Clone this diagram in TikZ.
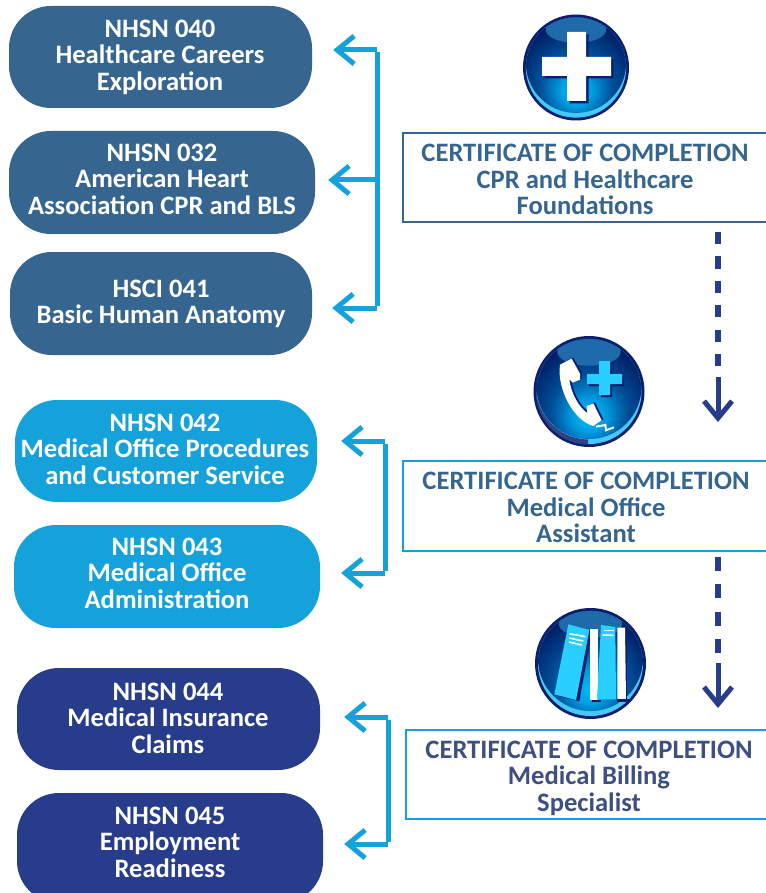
\documentclass[tikz,border=0pt]{standalone}
\usepackage{fontspec}
\setmainfont{Carlito}
\usetikzlibrary{arrows.meta}
\definecolor{clrone}{HTML}{36668F}
\definecolor{clrtwo}{HTML}{15A2DA}
\definecolor{clrthree}{HTML}{273D8B}
\definecolor{clrbill}{HTML}{3E4F82}
\definecolor{clrnavy}{HTML}{0B1F6E}
\definecolor{clrglow}{HTML}{45C9F5}
\definecolor{clrband}{HTML}{1F6AAB}
\definecolor{clrbook}{HTML}{28CFFF}
\definecolor{orba}{HTML}{00BEFA}
\definecolor{orbb}{HTML}{009BE0}
\definecolor{orbc}{HTML}{004F99}
\definecolor{orbd}{HTML}{001A61}
\pgfdeclareradialshading{orbshade}{\pgfpoint{0bp}{-15bp}}{%
  color(0bp)=(orba);
  color(8bp)=(orbb);
  color(18bp)=(orbc);
  color(32bp)=(orbd);
  color(100bp)=(orbd)}
\tikzset{
  course/.style={rounded corners=42pt,fill=#1,inner sep=0pt},
  coursetext/.style={text=white,font=\bfseries\fontsize{26.6}{26.5}\selectfont,align=center,inner sep=0pt},
  cert/.style={draw=#1,line width=2.6pt,inner sep=0pt},
  certtext/.style={text=#1,font=\bfseries\fontsize{26.6}{26.5}\selectfont,align=center,inner sep=0pt},
  bracket/.style={draw=clrtwo,line width=5pt},
  barbtip/.style={-{Straight Barb[length=17pt,width=28pt,line width=5pt]}},
  nextdash/.style={draw=clrthree,line width=5.5pt,dash pattern=on #1 off #1},
  nexttip/.style={draw=clrthree,line width=5pt,barbtip}
}
% name, x, y, radius
\newcommand{\orb}[4]{%
  \begin{scope}[shift={(#2,#3)},scale=#4/56]
    \coordinate (#1) at (0,0);
    \fill[clrnavy] (#1) circle (56);
    \fill[clrglow] (#1) circle (53);
    \begin{scope}
      \clip (#1) circle (53);
      \shade[shading=orbshade] (0,-5) circle (53);
      \fill[clrband] (0,-40) ellipse (32 and 14);
    \end{scope}
  \end{scope}
}

\begin{document}
\begin{tikzpicture}[x=1pt,y=-1pt]
  \useasboundingbox (0,0) rectangle (765,893);

%%%%        Courses
  \foreach\n/\x/\y/\w/\h/\c in {a0/160.5/57/303/102/clrone,a1/162/182.5/306/103/clrone,a2/161/303.5/302/103/clrone,b0/166/451/302/102/clrtwo,b1/167/576.5/306/103/clrtwo,c0/168.5/719/303/102/clrthree,c1/170/848/306/110/clrthree}
  {
    \node[course=\c,minimum width=\w pt,minimum height=\h pt] (\n) at (\x,\y) {};
  }
  \node[coursetext] at (160,57) {NHSN 040\\Healthcare Careers\\Exploration};
  \node[coursetext] at (162,179) {NHSN 032\\American Heart\\Association CPR and BLS};
  \node[coursetext] at (161,304) {HSCI 041\\Basic Human Anatomy};
  \node[coursetext] at (165,449) {NHSN 042\\Medical Office Procedures\\and Customer Service};
  \node[coursetext] at (167,573) {NHSN 043\\Medical Office\\Administration};
  \node[coursetext] at (168,718) {NHSN 044\\Medical Insurance\\Claims};
  \node[coursetext] at (170,842) {NHSN 045\\Employment\\Readiness};

%%%%        Certificates
  \node[cert=clrone,minimum width=372pt,minimum height=89pt] (s0) at (589,177.5) {};
  \node[cert=clrtwo,minimum width=372pt,minimum height=90pt] (s1) at (589,506) {};
  \node[cert=clrtwo,minimum width=369pt,minimum height=89pt] (s2) at (590.5,774.5) {};
  \node[certtext=clrone] at (585,179.5) {CERTIFICATE OF COMPLETION\\CPR and Healthcare\\Foundations};
  \node[certtext=clrone] at (586,507.5) {CERTIFICATE OF COMPLETION\\Medical Office\\Assistant};
  \node[certtext=clrbill] at (589,778) {CERTIFICATE OF COMPLETION\\Medical Billing\\Specialist};

%%%%        Brackets
  \coordinate (t0) at (377,50);
  \coordinate (t1) at (377,180);
  \coordinate (t2) at (377,308);
  \coordinate (t3) at (385,441);
  \coordinate (t4) at (385,573);
  \coordinate (t5) at (388,717);
  \coordinate (t6) at (388,844);
  \draw[bracket] ([yshift=-2.5]t0) -- ([yshift=2.5]t2);
  \draw[bracket] ([yshift=-2.5]t3) -- ([yshift=2.5]t4);
  \draw[bracket] ([yshift=-2.5]t5) -- ([yshift=2.5]t6);
  \foreach\v/\w/\d in {t0/a0/21,t1/a1/13,t2/a2/20,t3/b0/24,t4/b1/21,t5/c0/24,t6/c1/21}
  {
    \draw[bracket,barbtip,shorten >=\d pt] (\v) -- (\v -| \w.east);
  }

%%%%        Next steps
  \coordinate (n0) at (718,232);
  \coordinate (n1) at (718,367);
  \coordinate (n2) at (718,377);
  \coordinate (n3) at (718,422);
  \coordinate (n4) at (718,557);
  \coordinate (n5) at (718,653);
  \coordinate (n6) at (718,663);
  \coordinate (n7) at (718,708);
  \draw[nextdash=12.2pt] (n0) -- (n1);
  \draw[nextdash=13.7pt] (n4) -- (n5);
  \draw[nexttip] (n2) -- (n3);
  \draw[nexttip] (n6) -- (n7);

%%%%        Icons
  \orb{i0}{576}{67.5}{53}
  \orb{i1}{589}{391.5}{55.5}
  \orb{i2}{590.5}{663.5}{55.5}
%plus
  \foreach\d/\c in {2.5/clrnavy,0/white}
  {
    \fill[\c,shift={(\d,\d)}] (567,32) -- (586,32) -- (586,57) -- (611,57) -- (611,76) -- (586,76) -- (586,101) -- (567,101) -- (567,76) -- (542,76) -- (542,57) -- (567,57) -- cycle;
  }
%phone
  \begin{scope}
    \clip (589,391.5) circle (53) ;
    \clip (530,332) rectangle (588,460);
    \fill[even odd rule,clrnavy!85!white] (589,391.5) circle (53) (589,386.5) circle (53);
  \end{scope}
  \foreach\d/\c in {2/clrnavy,0/clrbook}
  {
    \fill[\c,shift={(\d,\d)}] (599,361) -- (610,361) -- (610,374) -- (622,374) -- (622,384) -- (610,384) -- (610,395) -- (599,395) -- (599,384) -- (587,384) -- (587,374) -- (599,374) -- cycle;
  }
  \begin{scope}[shift={(530,332)},x=0.3333pt,y=-0.3333pt]
    \foreach\d/\c in {5/clrnavy,0/white}
    {
      \fill[\c,shift={(\d pt*0.3333,\d pt*0.2)}] (90,98) -- (125,80) -- (150,125) -- (150,143) -- (128,152) -- (118,142) .. controls (122,180) and (145,225) .. (172,243) -- (170,222) -- (190,214) -- (215,265) -- (190,282) .. controls (130,265) and (80,170) .. (90,98) -- cycle;
    }
    \draw[white,line width=2pt] (198,284) -- (226,279) -- (228,295) -- (252,286);
  \end{scope}
%books
  \begin{scope}[shift={(530,605)},x=0.3333pt,y=-0.3333pt]
    \fill[clrnavy] (178,75) -- (186,78) -- (148,289) -- (80,272) -- (140,275) -- cycle;
    \fill[clrbook] (115,58) -- (178,75) -- (138,285) -- (73,268) -- cycle;
    \fill[clrnavy] (186,285) rectangle (212,290);
    \fill[white] (180,72) rectangle (203,285);
    \fill[clrbook] (213,60) -- (256,66) -- (258,283) -- (201,283) -- cycle;
    \fill[clrnavy] (262,282) rectangle (296,290);
    \fill[clrnavy] (284,70) rectangle (292,285);
    \fill[white] (262,68) -- (285,68) -- (288,282) -- (262,282) -- cycle;
    \foreach\a/\b/\e/\f in {118/86/166/95,118/99/160/108,117/111/156/120,221/77/251/77,218/90/250/91}
    {
      \draw[white,line width=1.6pt] (\a,\b) -- (\e,\f);
    }
  \end{scope}
\end{tikzpicture}
\end{document}
